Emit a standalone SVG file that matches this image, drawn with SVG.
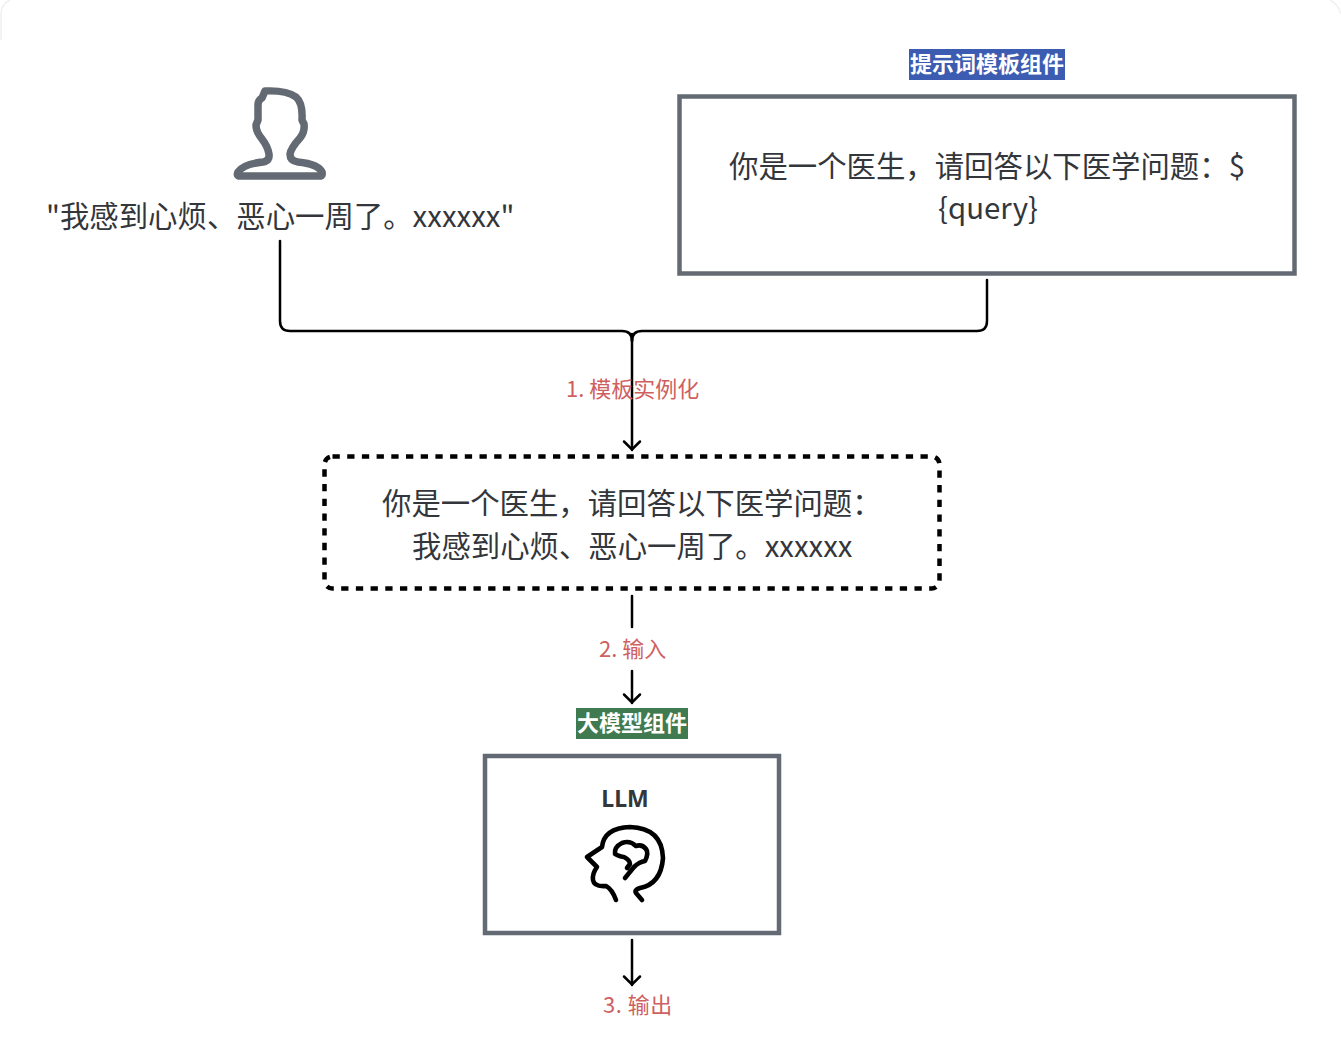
<svg xmlns="http://www.w3.org/2000/svg" width="1341" height="1054" viewBox="0 0 1341 1054">
<style>
text{font-family:"Noto Sans CJK SC","Noto Sans",sans-serif;fill:#33363b}
.m{font-size:29.4px}
.r{font-size:22px;fill:#cf6060}
.h{font-size:22px;fill:#fff;font-weight:700}
.box{fill:#fff;stroke:#646a73;stroke-width:4.5}
.c{fill:none;stroke:#000;stroke-width:2.5;stroke-linecap:round;stroke-linejoin:round}
.ic{fill:none;stroke:#000;stroke-width:4.6;stroke-linecap:round;stroke-linejoin:round}
</style>
<defs>
<marker id="a" markerUnits="userSpaceOnUse" markerWidth="14" markerHeight="20" refX="11" refY="10" viewBox="0 0 14 20" orient="auto"><path d="M2.500 2L10.500 10L2.500 18" fill="none" stroke="#000" stroke-width="2.500" stroke-linecap="round"/></marker>
</defs>
<rect width="1341" height="1054" fill="#fff"/>
<path d="M1 40V14Q1 4 10 0M1330 0Q1338 4 1341 14" fill="none" stroke="#f0f0f0" stroke-width="1.5"/>
<g id="connectors">
<path class="c" d="M280 241V321Q280 331 290 331H622Q632 331 632 341"/>
<path class="c" d="M987 280V321Q987 331 977 331H642Q632 331 632 341"/>
<path class="c" d="M632 334V450" marker-end="url(#a)"/>
<path class="c" d="M632 596V627"/>
<path class="c" d="M632 671V703" marker-end="url(#a)"/>
<path class="c" d="M632 940V985" marker-end="url(#a)"/>
</g>
<g id="user">
<path d="M265 91Q286 90 296 97Q303 103 302 120L304 124Q305 132 300 138Q291 148 290 154Q290 161 298 162Q318 164 322 172Q323 176 320 176H240Q236 176 238 172Q243 164 263 162Q270 161 269 154Q268 147 262 139Q256 132 256 125L258 120V105Q258 100 262 98Z" fill="none" stroke="#646a73" stroke-width="7.500" stroke-linejoin="round"/>
<text class="m" x="46" y="227">"我感到心烦、恶心一周了。xxxxxx"</text>
</g>
<g id="template">
<rect x="909" y="49" width="156" height="31" fill="#3b5cb0"/>
<text class="h" x="987" y="72" text-anchor="middle">提示词模板组件</text>
<rect class="box" x="679.500" y="96.500" width="615" height="177"/>
<text class="m" x="729" y="177">你是一个医生，请回答以下医学问题：$</text>
<text class="m" x="988" y="219" text-anchor="middle">{query}</text>
</g>
<g id="step1-label"><text class="r" x="566" y="397">1. 模板实例化</text></g>
<g id="instance">
<rect x="324.500" y="456.500" width="615" height="132" rx="8" fill="#fff" stroke="#000" stroke-width="4.500" stroke-dasharray="7.300 7.400"/>
<text class="m" x="382" y="514">你是一个医生，请回答以下医学问题：</text>
<text class="m" x="412" y="557">我感到心烦、恶心一周了。xxxxxx</text>
</g>
<g id="step2-label"><text class="r" x="599" y="657">2. 输入</text></g>
<g id="llm">
<rect x="576" y="708" width="112" height="31" fill="#3f7a50"/>
<text class="h" x="632" y="731" text-anchor="middle">大模型组件</text>
<rect class="box" x="485" y="756" width="294" height="177"/>
<text x="625" y="807" text-anchor="middle" font-size="23" font-weight="700" style="font-family:'Noto Sans','Noto Sans CJK SC',sans-serif">LLM</text>
<path class="ic" d="M616 900Q612 889 606 886Q594 887 593 880Q592 874 597 867L587 857L602 847Q604 828 630 827Q662 828 663 858Q661 884 640 888Q634 890 636 893L642 900"/>
<path class="ic" d="M625 878L634 867Q639 862 645 861Q649 853 646 849Q642 844 636 846Q630 840 622 843Q614 847 615 854Q621 857 624 857Q630 860 630 864L627 868"/>
</g>
<g id="step3-label"><text class="r" x="603" y="1013" letter-spacing="0.500">3. 输出</text></g>
</svg>
